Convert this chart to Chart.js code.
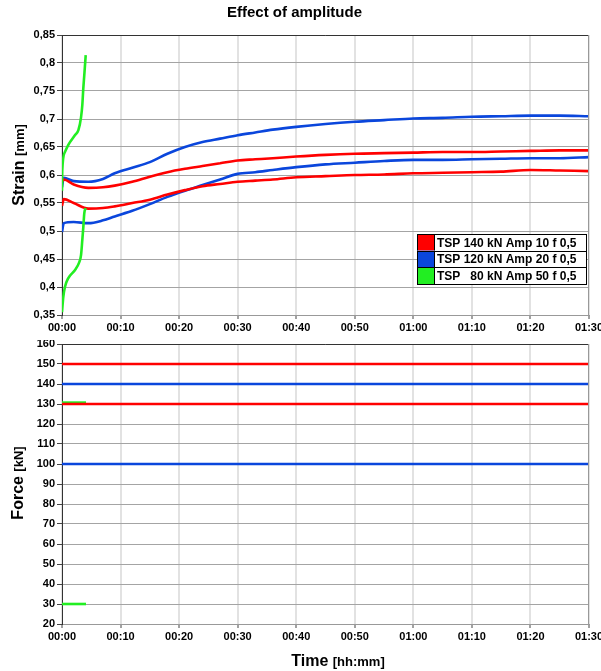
<!DOCTYPE html>
<html>
<head>
<meta charset="utf-8">
<script src="https://cdn.jsdelivr.net/npm/chart.js@4.4.1/dist/chart.umd.min.js"></script>
<style>
  body { margin: 0; background: #fff; }
  #wrap { position: relative; width: 601px; height: 671px; }
  canvas { position: absolute; left: 0; }
</style>
</head>
<body>
<div id="wrap">
  <canvas id="chart-1" width="601" height="340" style="top:0"></canvas>
  <canvas id="chart-2" width="601" height="331" style="top:340px"></canvas>
</div>
<script>
// tick labels of the time axis (minutes 0..90)
const timeTicks = ['00:00', '00:10', '00:20', '00:30', '00:40', '00:50', '01:00', '01:10', '01:20', '01:30'];

const seriesNames = ['TSP 140 kN Amp 10 f 0,5', 'TSP 120 kN Amp 20 f 0,5', 'TSP   80 kN Amp 50 f 0,5'];
const seriesColors = ['#ff0000', '#0a46dc', '#22ee22'];

// strain (time in minutes)
const tMain = [0, 0.3, 2, 4.5, 7, 9, 12, 15, 18, 21, 24, 27, 30, 33, 36, 40, 45, 50, 55, 60, 65, 70, 75, 80, 85, 90];
const redStrainMax = [0.588, 0.592, 0.583, 0.577, 0.578, 0.581, 0.588, 0.597, 0.605, 0.611, 0.616, 0.621, 0.626, 0.628, 0.630, 0.633, 0.636, 0.638, 0.639, 0.640, 0.641, 0.641, 0.642, 0.643, 0.644, 0.644];
const redStrainMin = [0.545, 0.557, 0.550, 0.540, 0.541, 0.544, 0.550, 0.556, 0.565, 0.573, 0.580, 0.584, 0.588, 0.590, 0.592, 0.596, 0.598, 0.600, 0.601, 0.603, 0.604, 0.605, 0.606, 0.609, 0.608, 0.607];
const blueStrainMax = [0.578, 0.595, 0.589, 0.588, 0.593, 0.603, 0.613, 0.623, 0.638, 0.650, 0.659, 0.665, 0.671, 0.676, 0.681, 0.686, 0.691, 0.695, 0.698, 0.701, 0.702, 0.704, 0.705, 0.706, 0.706, 0.705];
const blueStrainMin = [0.498, 0.514, 0.516, 0.514, 0.519, 0.526, 0.536, 0.548, 0.561, 0.572, 0.582, 0.592, 0.602, 0.605, 0.609, 0.614, 0.619, 0.622, 0.625, 0.627, 0.627, 0.628, 0.629, 0.630, 0.630, 0.632];
const tGreenMax = [0, 0.05, 0.5, 1.08, 2.2, 2.8, 3.25, 3.47, 3.64, 3.81, 4.05];
const greenStrainMax = [0.572, 0.609, 0.641, 0.654, 0.671, 0.68, 0.703, 0.725, 0.755, 0.779, 0.814];
const tGreenMin = [0, 0.22, 0.5, 1.08, 2.2, 2.9, 3.25, 3.47, 3.64, 3.81, 4.05];
const greenStrainMin = [0.355, 0.382, 0.40, 0.416, 0.43, 0.443, 0.457, 0.484, 0.507, 0.532, 0.541];

// force
const tForce = [0, 90];
const tGreenForce = [0, 4.1];
const redForceMax = [150, 150];
const redForceMin = [130, 130];
const blueForceMax = [140, 140];
const blueForceMin = [100, 100];
const greenForceMax = [130.7, 130.7];
const greenForceMin = [30, 30];

const FONT = '"Liberation Sans", Arial, sans-serif';

function pts(ts, vs) {
  return ts.map((t, i) => ({ x: t, y: vs[i] }));
}

function line(ts, vs, color, order) {
  return {
    data: pts(ts, vs),
    borderColor: color,
    borderWidth: 2.6,
    pointRadius: 0,
    cubicInterpolationMode: 'monotone',
    order: order
  };
}

// draws "Strain [mm]" style titles with two font sizes
function drawMixed(ctx, cx, cy, rotate, parts) {
  ctx.save();
  ctx.translate(cx, cy);
  if (rotate) ctx.rotate(-Math.PI / 2);
  let total = 0;
  parts.forEach(p => { ctx.font = p.font; p.w = ctx.measureText(p.text).width; total += p.w; });
  let x = -total / 2;
  ctx.fillStyle = '#000';
  ctx.textAlign = 'left';
  ctx.textBaseline = 'alphabetic';
  parts.forEach(p => { ctx.font = p.font; ctx.fillText(p.text, x, 6); x += p.w; });
  ctx.restore();
}

const framePlugin = {
  id: 'frame',
  afterDraw(chart) {
    const a = chart.chartArea, ctx = chart.ctx;
    ctx.save();
    ctx.lineWidth = 1;
    ctx.strokeStyle = '#333';
    ctx.beginPath();
    ctx.moveTo(a.left, a.top + 0.5);
    ctx.lineTo(a.right, a.top + 0.5);
    ctx.stroke();
    ctx.strokeStyle = '#999';
    ctx.beginPath();
    ctx.moveTo(a.right - 0.5, a.top);
    ctx.lineTo(a.right - 0.5, a.bottom);
    ctx.stroke();
    ctx.restore();
  }
};

function makeOptions(yMin, yMax, yStep, yFmt, xHeight, padTop) {
  return {
    responsive: false,
    animation: false,
    layout: { padding: { left: 0, right: 12, top: padTop, bottom: 0 } },
    plugins: { legend: { display: false }, tooltip: { enabled: false } },
    scales: {
      x: {
        type: 'linear',
        min: 0,
        max: 90,
        ticks: {
          stepSize: 10,
          autoSkip: false,
          maxRotation: 0,
          padding: 2,
          color: '#000',
          font: { family: FONT, size: 11, weight: 'bold' },
          callback: v => timeTicks[Math.round(v / 10)]
        },
        grid: { color: '#e2e2e2', lineWidth: 2, tickLength: 4, tickColor: '#444', tickWidth: 1 },
        border: { color: '#999', width: 1 },
        afterFit(s) { s.height = xHeight; s.paddingLeft = 0; s.paddingRight = 0; }
      },
      y: {
        min: yMin,
        max: yMax,
        ticks: {
          stepSize: yStep,
          padding: 2,
          color: '#000',
          font: { family: FONT, size: 11, weight: 'bold' },
          callback: yFmt
        },
        grid: { color: '#a4a4a4', lineWidth: 1, tickLength: 5, tickColor: '#444' },
        border: { color: '#333', width: 1 },
        afterFit(s) { s.width = 62; s.paddingTop = 0; s.paddingBottom = 0; }
      }
    }
  };
}

// top chart: strain
const opt1 = makeOptions(0.35, 0.85, 0.05, v => Number(v.toFixed(2)).toString().replace('.', ','), 25, 0);
opt1.plugins.title = {
  display: true,
  text: 'Effect of amplitude',
  color: '#000',
  font: { family: FONT, size: 15, weight: 'bold' },
  padding: { top: 4, bottom: 13 }
};

const ctx1 = document.getElementById('chart-1').getContext('2d');
const chart1 = new Chart(ctx1, {
  type: 'line',
  data: {
    datasets: [
      line(tGreenMax, greenStrainMax, seriesColors[2], 0),
      line(tGreenMin, greenStrainMin, seriesColors[2], 0),
      line(tMain, redStrainMax, seriesColors[0], 1),
      line(tMain, redStrainMin, seriesColors[0], 1),
      line(tMain, blueStrainMax, seriesColors[1], 2),
      line(tMain, blueStrainMin, seriesColors[1], 2)
    ]
  },
  options: opt1,
  plugins: [framePlugin, {
    id: 'extras1',
    afterDraw(chart) {
      const ctx = chart.ctx;
      drawMixed(ctx, 18, 165, true, [
        { text: 'Strain ', font: 'bold 16px ' + FONT },
        { text: '[mm]', font: 'bold 13px ' + FONT }
      ]);
      // legend box
      const lx = 417, ly = 234, lw = 169, rh = 16.7;
      ctx.save();
      seriesNames.forEach((name, i) => {
        const y = ly + i * rh;
        ctx.fillStyle = '#fff';
        ctx.fillRect(lx, y, lw, rh);
        ctx.fillStyle = seriesColors[i];
        ctx.fillRect(lx, y, 17, rh);
        ctx.strokeStyle = '#000';
        ctx.lineWidth = 1;
        ctx.strokeRect(lx + 0.5, Math.round(y) + 0.5, lw, Math.round(rh));
        ctx.beginPath();
        ctx.moveTo(lx + 17.5, y);
        ctx.lineTo(lx + 17.5, y + rh);
        ctx.stroke();
        ctx.fillStyle = '#000';
        ctx.font = 'bold 12px ' + FONT;
        ctx.textBaseline = 'middle';
        ctx.textAlign = 'left';
        ctx.fillText(name.replace(/ /g, '\u00a0'), lx + 20, y + rh / 2 + 1);
      });
      ctx.restore();
    }
  }]
});

// bottom chart: force
const ctx2 = document.getElementById('chart-2').getContext('2d');
const chart2 = new Chart(ctx2, {
  type: 'line',
  data: {
    datasets: [
      line(tForce, redForceMax, seriesColors[0], 0),
      line(tForce, redForceMin, seriesColors[0], 0),
      line(tForce, blueForceMax, seriesColors[1], 1),
      line(tForce, blueForceMin, seriesColors[1], 1),
      line(tGreenForce, greenForceMax, seriesColors[2], 3),
      line(tGreenForce, greenForceMin, seriesColors[2], 3)
    ]
  },
  options: makeOptions(20, 160, 10, v => v, 47, 4),
  plugins: [framePlugin, {
    id: 'extras2',
    afterDraw(chart) {
      const ctx = chart.ctx;
      drawMixed(ctx, 17, 143, true, [
        { text: 'Force ', font: 'bold 16px ' + FONT },
        { text: '[kN]', font: 'bold 13px ' + FONT }
      ]);
      drawMixed(ctx, 338, 320, false, [
        { text: 'Time ', font: 'bold 16px ' + FONT },
        { text: '[hh:mm]', font: 'bold 13px ' + FONT }
      ]);
    }
  }]
});
</script>
</body>
</html>
